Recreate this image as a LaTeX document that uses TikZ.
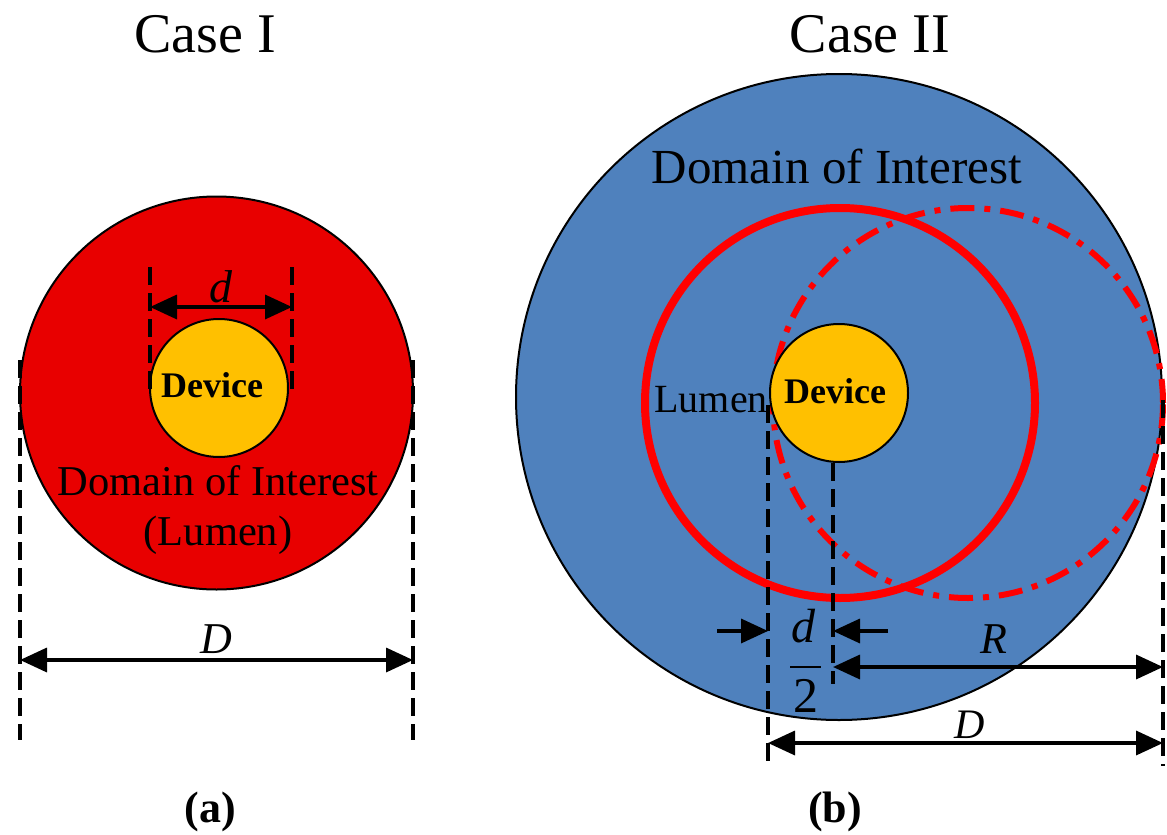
\RequirePackage{fix-cm}
\documentclass[tikz,border=0pt]{standalone}
\usepackage{fontspec}
\setmainfont{Liberation Serif}
\usetikzlibrary{arrows.meta}
\definecolor{lumenred}{RGB}{232,0,0}
\definecolor{domblue}{RGB}{79,129,189}
\definecolor{devorange}{RGB}{255,192,0}
\definecolor{ringred}{RGB}{255,0,0}
\newcommand{\fsz}[1]{\fontsize{#1}{#1}\selectfont}
\begin{document}
\begin{tikzpicture}[x=1pt,y=-1pt,
  disc/.style={circle,draw=black,line width=2pt,inner sep=0pt},
  ring/.style={circle,draw=ringred,inner sep=0pt},
  dimline/.style={line width=4pt,dash pattern=on 18pt off 8pt},
  tip/.style={Triangle[length=27pt,width=24pt]},
  dimarrow/.style={line width=3.5pt,{Triangle[length=27pt,width=24pt]}-{Triangle[length=27pt,width=24pt]}},
  onearrow/.style={line width=3.5pt,-{Triangle[length=27pt,width=24pt]}},
  lab/.style={inner sep=0pt,anchor=base}]
\useasboundingbox (0,0) rectangle (1167,835);

% ---------- Case I ----------
\node[disc,fill=lumenred,minimum size=393pt] (lumA) at (216.5,393) {};
\node[disc,fill=devorange,minimum size=138pt] (devA) at (219,388) {};
\node[lab] (devAt) at (212,397) {\fsz{36}\bfseries Device};
\node[lab] (domA) at (218,495) {\fsz{42.5}Domain of Interest};
\node[lab] (lumAt) at (218,545) {\fsz{42.5}(Lumen)};
\node[lab] (caseA) at (205,52) {\fsz{56}Case I};
\node[lab] (capA) at (210,822) {\fsz{44}\bfseries (a)};

\coordinate (a1t) at (150,267); \coordinate (a1b) at (150,396);
\coordinate (a2t) at (292,267); \coordinate (a2b) at (292,396);
\draw[dimline] (a1t) -- (a1b);
\draw[dimline] (a2t) -- (a2b);
\coordinate (ad1) at (150,307); \coordinate (ad2) at (292,307);
\draw[dimarrow] (ad1) -- (ad2);
\node[lab] (dA) at (221,302) {\fsz{46}\itshape d};

\coordinate (a3t) at (20,360); \coordinate (a3b) at (20,740);
\coordinate (a4t) at (413,360); \coordinate (a4b) at (413,740);
\draw[dimline] (a3t) -- (a3b);
\draw[dimline] (a4t) -- (a4b);
\coordinate (aD1) at (20,660); \coordinate (aD2) at (413,660);
\draw[dimarrow] (aD1) -- (aD2);
\node[lab] (DA) at (216,653) {\fsz{44}\itshape D};

% ---------- Case II ----------
\node[disc,fill=domblue,minimum size=646pt] (domB) at (839,397) {};
\node[ring,line width=8pt,minimum size=390pt] (solidB) at (840,403) {};
\node[ring,line width=6pt,minimum size=390pt,dash pattern=on 24pt off 10pt on 6pt off 10pt] (dashB) at (968,403) {};
\node[disc,fill=devorange,minimum size=138pt] (devB) at (839,393) {};
\node[lab] (devBt) at (835,403) {\fsz{36}\bfseries Device};
\node[lab,anchor=base east] (lumBt) at (768,412) {\fsz{40}Lumen};
\node[lab] (domBt) at (837,183) {\fsz{49}Domain of Interest};
\node[lab] (caseB) at (870,52) {\fsz{56}Case II};
\node[lab] (capB) at (835,822) {\fsz{44}\bfseries (b)};

\coordinate (b1t) at (768,405); \coordinate (b1b) at (768,766);
\coordinate (b2t) at (833,463); \coordinate (b2b) at (833,684);
\coordinate (b3t) at (1163,400); \coordinate (b3b) at (1163,766);
\draw[dimline] (b1t) -- (b1b);
\draw[dimline] (b2t) -- (b2b);
\draw[dimline] (b3t) -- (b3b);

\coordinate (hL) at (717,631); \coordinate (hLt) at (768,631);
\coordinate (hR) at (888,631); \coordinate (hRt) at (833,631);
\draw[onearrow] (hL) -- (hLt);
\draw[onearrow] (hR) -- (hRt);
\node[lab] (halfd) at (803,642) {\fsz{48}\itshape d};
\coordinate (bar1) at (790,667); \coordinate (bar2) at (821,667);
\draw[line width=2.5pt] (bar1) -- (bar2);
\node[lab] (half2) at (806,712) {\fsz{50}2};

\coordinate (r1) at (833,667); \coordinate (r2) at (1163,667);
\draw[dimarrow] (r1) -- (r2);
\node[lab] (Rt) at (994,653) {\fsz{44}\itshape R};

\coordinate (dB1) at (768,743); \coordinate (dB2) at (1163,743);
\draw[dimarrow] (dB1) -- (dB2);
\node[lab] (DBt) at (970,738) {\fsz{42}\itshape D};
\end{tikzpicture}
\end{document}
